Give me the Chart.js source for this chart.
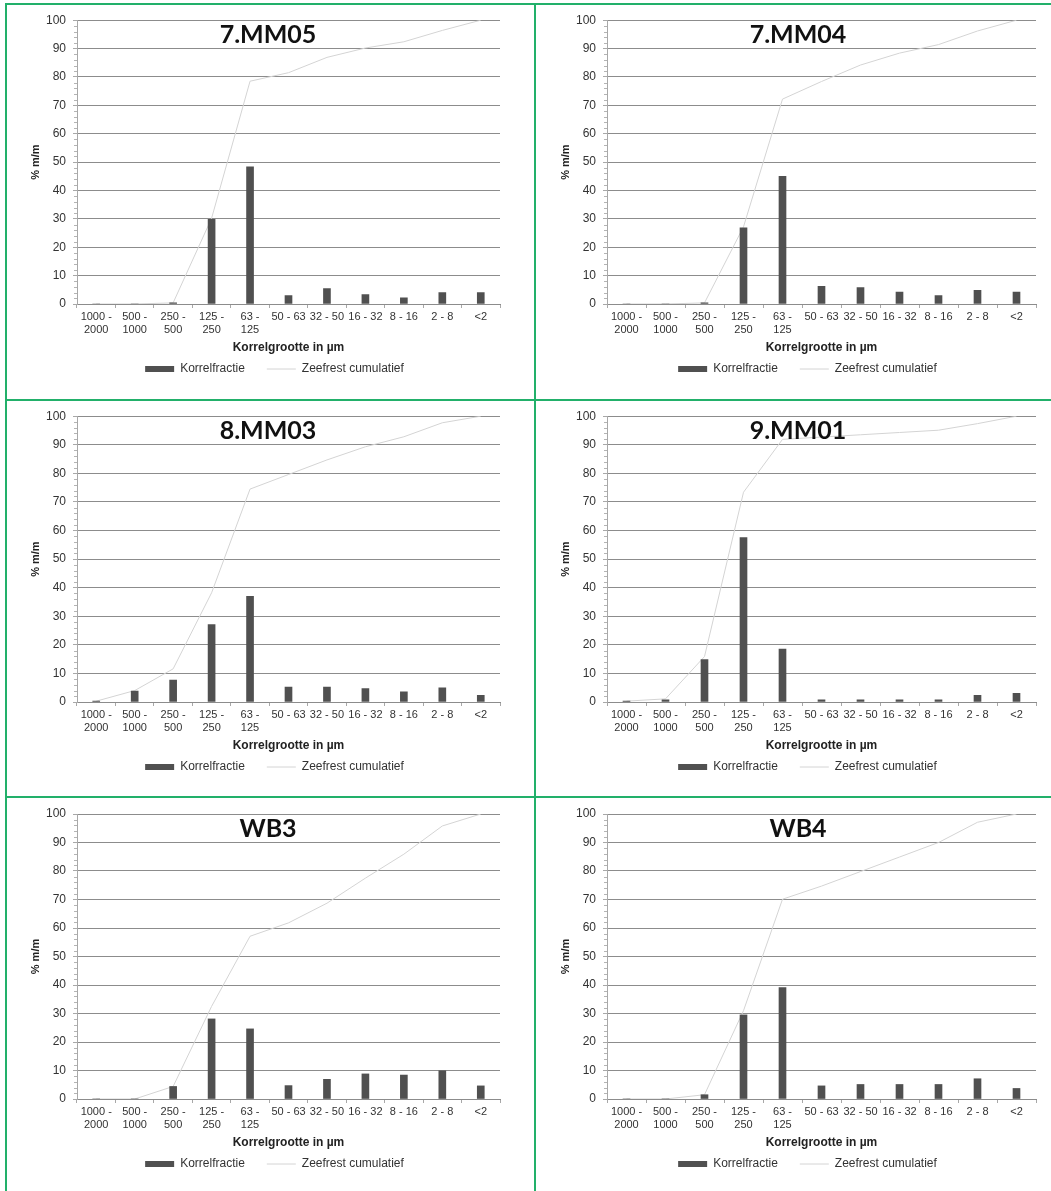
<!DOCTYPE html>
<html>
<head>
<meta charset="utf-8">
<script src="https://cdn.jsdelivr.net/npm/chart.js@4/dist/chart.umd.min.js"></script>
<style>
  html, body { margin: 0; padding: 0; background: #ffffff; }
  #wrap { position: relative; width: 1051px; height: 1191px; background: #ffffff; overflow: hidden; }
  canvas { position: absolute; }
  .gl { position: absolute; background: #22b06a; }
</style>
</head>
<body>
<div id="wrap">
  <canvas id="c1" width="527" height="392" style="left:7px;top:6px;width:527px;height:392px"></canvas>
  <canvas id="c2" width="514" height="392" style="left:537px;top:6px;width:514px;height:392px"></canvas>
  <canvas id="c3" width="527" height="393" style="left:7px;top:402px;width:527px;height:393px"></canvas>
  <canvas id="c4" width="514" height="393" style="left:537px;top:402px;width:514px;height:393px"></canvas>
  <canvas id="c5" width="527" height="392" style="left:7px;top:799px;width:527px;height:392px"></canvas>
  <canvas id="c6" width="514" height="392" style="left:537px;top:799px;width:514px;height:392px"></canvas>
  <div class="gl" style="left:5px;top:3px;width:1046px;height:2px"></div>
  <div class="gl" style="left:5px;top:3px;width:2px;height:1188px"></div>
  <div class="gl" style="left:534px;top:3px;width:2px;height:1188px"></div>
  <div class="gl" style="left:5px;top:399px;width:1046px;height:2px"></div>
  <div class="gl" style="left:5px;top:796px;width:1046px;height:2px"></div>
</div>
<script>
// ---- data ----
const categories = ["1000 - 2000", "500 - 1000", "250 - 500", "125 - 250", "63 - 125", "50 - 63", "32 - 50", "16 - 32", "8 - 16", "2 - 8", "<2"];
const tickLabels = [["1000 -", "2000"], ["500 -", "1000"], ["250 -", "500"], ["125 -", "250"], ["63 -", "125"], "50 - 63", "32 - 50", "16 - 32", "8 - 16", "2 - 8", "<2"];
const yTicks = [0, 10, 20, 30, 40, 50, 60, 70, 80, 90, 100];

const titles = ["7.MM05", "7.MM04", "8.MM03", "9.MM01", "WB3", "WB4"];

const fractie_7MM05 = [0, 0, 0.4, 29.8, 48.3, 3.0, 5.4, 3.3, 2.2, 4.0, 4.0];
const cumul_7MM05   = [0, 0, 0.4, 30.2, 78.5, 81.5, 86.9, 90.2, 92.4, 96.4, 100];

const fractie_7MM04 = [0, 0, 0.4, 26.8, 45.0, 6.2, 5.8, 4.2, 3.0, 4.8, 4.2];
const cumul_7MM04   = [0, 0, 0.4, 27.2, 72.2, 78.4, 84.2, 88.4, 91.4, 96.2, 100];

const fractie_8MM03 = [0.3, 3.8, 7.7, 27.1, 37.0, 5.2, 5.2, 4.7, 3.6, 5.0, 2.3];
const cumul_8MM03   = [0.3, 4.0, 11.6, 38.2, 74.5, 79.6, 84.7, 89.3, 92.8, 97.7, 100];

const fractie_9MM01 = [0.3, 0.8, 14.8, 57.5, 18.5, 0.8, 0.8, 0.8, 0.8, 2.3, 3.0];
const cumul_9MM01   = [0.3, 1.1, 15.9, 73.4, 91.9, 92.7, 93.5, 94.3, 95.1, 97.4, 100];

const fractie_WB3 = [0, 0, 4.4, 28.1, 24.6, 4.7, 6.9, 8.8, 8.4, 9.9, 4.6];
const cumul_WB3   = [0, 0, 4.4, 32.5, 57.1, 61.8, 68.7, 77.5, 85.9, 95.8, 100];

const fractie_WB4 = [0, 0, 1.5, 29.5, 39.1, 4.6, 5.1, 5.1, 5.1, 7.1, 3.7];
const cumul_WB4   = [0, 0, 1.5, 31.0, 70.1, 74.7, 79.8, 84.9, 90.0, 97.1, 100];

const seriesNames = ["Korrelfractie", "Zeefrest cumulatief"];
const xTitle = "Korrelgrootte in µm";
const yTitle = "% m/m";

// ---- rendering ----
const FONT = "'Liberation Sans', Arial, sans-serif";

const minorTicks = {
  id: 'minorTicks',
  beforeDatasetsDraw(chart) {
    const y = chart.scales.y;
    const ctx = chart.ctx;
    const x0 = chart.chartArea.left;
    ctx.save();
    ctx.strokeStyle = '#b4b4b4';
    ctx.lineWidth = 1;
    ctx.beginPath();
    for (let v = 2; v < 100; v += 2) {
      if (v % 10 === 0) continue;
      const py = Math.round(y.getPixelForValue(v)) + 0.5;
      ctx.moveTo(x0 - 3, py);
      ctx.lineTo(x0, py);
    }
    ctx.stroke();
    ctx.restore();
  }
};

const legendShift = {
  id: 'legendShift',
  afterLayout(chart) {
    if (chart.legend) {
      chart.legend.left += 21;
      chart.legend.right += 21;
    }
  }
};

const panelTitle = {
  id: 'panelTitle',
  afterDraw(chart, args, opts) {
    const ctx = chart.ctx;
    const a = chart.chartArea;
    ctx.save();
    ctx.font = "bold 25px Lato, 'Open Sans', sans-serif";
    ctx.fillStyle = '#111111';
    ctx.textAlign = 'center';
    ctx.textBaseline = 'middle';
    ctx.fillText(opts.text, a.left + 191, a.top + 15);
    ctx.restore();
  }
};

function makeChart(id, title, fractie, cumul, rightPad, topPad, bottomPad) {
  return new Chart(document.getElementById(id), {
    type: 'bar',
    data: {
      labels: tickLabels,
      datasets: [
        {
          type: 'bar', label: seriesNames[0], data: fractie,
          backgroundColor: '#505050', borderWidth: 0, barThickness: 7,
          order: 0, pointStyle: 'rect'
        },
        {
          type: 'line', label: seriesNames[1], data: cumul,
          borderColor: '#d4d4d4', backgroundColor: '#d4d4d4', borderWidth: 1,
          pointRadius: 0, tension: 0, fill: false, order: 1, pointStyle: 'line'
        }
      ]
    },
    plugins: [minorTicks, legendShift, panelTitle],
    options: {
      responsive: false,
      animation: false,
      devicePixelRatio: 1,
      layout: { padding: { left: 0, right: rightPad, top: topPad, bottom: bottomPad } },
      plugins: {
        panelTitle: { text: title },
        tooltip: { enabled: false },
        title: { display: false },
        legend: {
          position: 'bottom',
          labels: {
            usePointStyle: true, pointStyleWidth: 29, boxHeight: 6,
            padding: 22, color: '#333333',
            font: { family: FONT, size: 12 }
          }
        }
      },
      scales: {
        x: {
          grid: { drawOnChartArea: false, drawTicks: true, tickLength: 4, tickColor: '#a8a8a8', offset: true },
          border: { color: '#8c8c8c' },
          ticks: { color: '#333333', font: { family: FONT, size: 11 }, padding: 2, maxRotation: 0, autoSkip: false },
          title: { display: true, text: xTitle, color: '#222222', font: { family: FONT, size: 12, weight: 'bold' }, padding: { top: 4, bottom: -14 } },
          afterFit(s) { s.height = 37; }
        },
        y: {
          min: 0, max: 100,
          afterBuildTicks(s) { s.ticks = yTicks.map(v => ({ value: v })); },
          grid: { color: '#8c8c8c', tickLength: 4, tickColor: '#a8a8a8' },
          border: { color: '#a8a8a8' },
          ticks: { color: '#333333', font: { family: FONT, size: 12 }, padding: 7 },
          title: { display: true, text: yTitle, color: '#222222', font: { family: FONT, size: 11, weight: 'bold' }, padding: { top: 22, bottom: 0 } },
          afterFit(s) { s.width = 70; }
        }
      }
    }
  });
}

makeChart('c1', titles[0], fractie_7MM05, cumul_7MM05, 34, 13, 13);
makeChart('c2', titles[1], fractie_7MM04, cumul_7MM04, 15, 13, 13);
makeChart('c3', titles[2], fractie_8MM03, cumul_8MM03, 34, 14, 12);
makeChart('c4', titles[3], fractie_9MM01, cumul_9MM01, 15, 14, 12);
makeChart('c5', titles[4], fractie_WB3, cumul_WB3, 34, 15, 11);
makeChart('c6', titles[5], fractie_WB4, cumul_WB4, 15, 15, 11);
</script>
</body>
</html>
